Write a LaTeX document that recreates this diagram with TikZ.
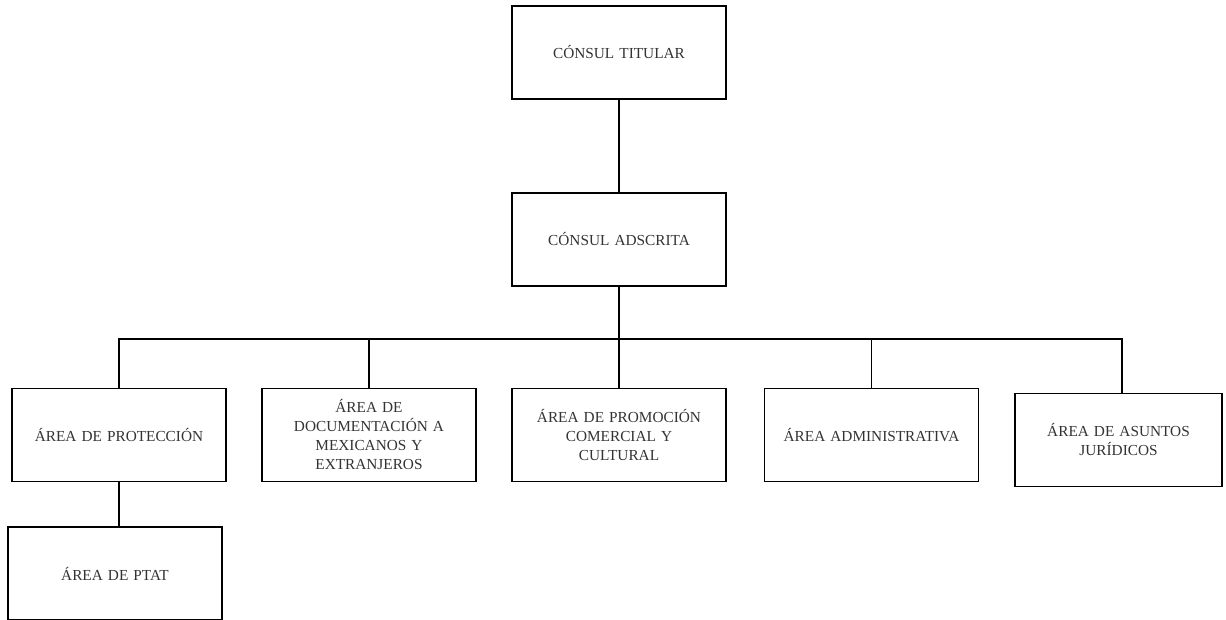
\documentclass[tikz,border=0pt]{standalone}
\usepackage{fontspec}
\setmainfont{Liberation Serif}
\begin{document}
\begin{tikzpicture}[x=1pt,y=-1pt,
  box/.style={draw=black,line width=1.7pt,minimum width=214pt,minimum height=93pt,
    align=center,text width=205pt,font=\fontsize{15.3}{19}\selectfont,text=black!80,inner sep=0pt},
  conn/.style={line width=1.7pt}]
\useasboundingbox (0,0) rectangle (1226,620);
\node[box] (ct) at (619,52.5) {CÓNSUL TITULAR};
\node[box] (ca) at (619,239.5) {CÓNSUL ADSCRITA};
\node[box] (a1) at (119,435) {ÁREA DE PROTECCIÓN};
\node[box] (a2) at (369,435) {ÁREA DE\\DOCUMENTACIÓN A\\MEXICANOS Y\\EXTRANJEROS};
\node[box] (a3) at (619,435) {ÁREA DE PROMOCIÓN\\COMERCIAL Y\\CULTURAL};
\node[box] (a4) at (871.5,435) {ÁREA ADMINISTRATIVA};
\node[box,minimum width=207pt,text width=200pt] (a5) at (1118.5,440) {ÁREA DE ASUNTOS\\JURÍDICOS};
\node[box] (p) at (115,573.5) {ÁREA DE PTAT};
\coordinate (bus) at (619,339);
\draw[conn] (ct.south) -- (ca.north);
\draw[conn] (ca.south) -- (bus);
\draw[conn] (a1.north) |- (bus);
\draw[conn] (a5.north -| 1122,0) |- (bus);
\draw[conn] (a2.north) -- (a2.north |- bus);
\draw[conn] (a3.north) -- (bus);
\draw[conn] (a4.north) -- (a4.north |- bus);
\draw[conn] (a1.south) -- (a1.south |- p.north);
\end{tikzpicture}
\end{document}
